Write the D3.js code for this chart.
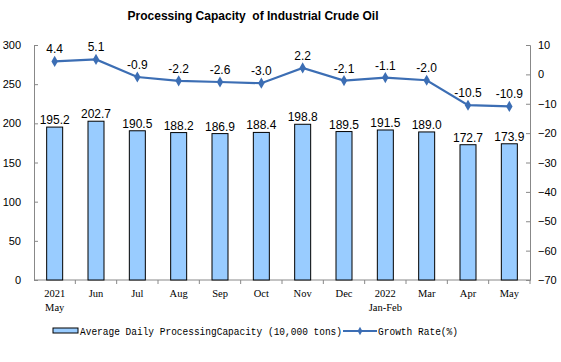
<!DOCTYPE html>
<html>
<head>
<meta charset="utf-8">
<script src="https://cdn.jsdelivr.net/npm/d3@7"></script>
<style>
  body { margin: 0; background: #fff; }
  svg text { font-family: Arial, "Liberation Sans", sans-serif; }
</style>
</head>
<body>
<svg id="chart"></svg>
<script>
var months = ["2021\nMay", "Jun", "Jul", "Aug", "Sep", "Oct", "Nov", "Dec", "2022\nJan-Feb", "Mar", "Apr", "May"];
var capacity = [195.2, 202.7, 190.5, 188.2, 186.9, 188.4, 198.8, 189.5, 191.5, 189.0, 172.7, 173.9];
var growth = [4.4, 5.1, -0.9, -2.2, -2.6, -3.0, 2.2, -2.1, -1.1, -2.0, -10.5, -10.9];
var leftTicks = [0, 50, 100, 150, 200, 250, 300];
var rightTicks = [10, 0, -10, -20, -30, -40, -50, -60, -70];

var width = 561, height = 362;
var margin = {top: 45, right: 31, bottom: 82, left: 34};

var svg = d3.select("#chart")
    .attr("width", width)
    .attr("height", height);

var xOuter = d3.scaleBand().domain(months).range([margin.left, width - margin.right]);
var y = d3.scaleLinear().domain([0, 300]).range([height - margin.bottom, margin.top]);
var y2 = d3.scaleLinear().domain([-70, 10]).range([height - margin.bottom, margin.top]);

var lineColor = "#3c6eb4";

// title
svg.append("text")
    .attr("x", 253).attr("y", 20)
    .attr("text-anchor", "middle")
    .style("font-size", "13px").style("font-weight", "bold")
    .style("white-space", "pre")
    .attr("textLength", 251).attr("lengthAdjust", "spacingAndGlyphs")
    .text("Processing Capacity  of Industrial Crude Oil");

// left axis
var gl = svg.append("g").attr("transform", "translate(" + margin.left + ",0)")
    .call(d3.axisLeft(y).tickValues(leftTicks).tickSize(-4).tickPadding(13));
// right axis
var gr = svg.append("g").attr("transform", "translate(" + (width - margin.right) + ",0)")
    .call(d3.axisRight(y2).tickValues(rightTicks).tickSize(-4).tickPadding(8));
[gl, gr].forEach(function(g) {
  g.select(".domain").attr("stroke", "#888");
  g.selectAll(".tick line").attr("stroke", "#888");
  g.selectAll(".tick text").style("font-size", "11px").style("font-family", "'Liberation Sans Narrow', Arial, sans-serif").attr("fill", "#000");
});

// bottom axis
var xb = svg.append("g").attr("transform", "translate(0," + y(0) + ")");
xb.append("line").attr("x1", margin.left).attr("x2", width - margin.right).attr("stroke", "#888");
xb.selectAll("line.t").data(months).enter().append("line").attr("class", "t")
    .attr("x1", function(d) { return xOuter(d) + xOuter.bandwidth(); })
    .attr("x2", function(d) { return xOuter(d) + xOuter.bandwidth(); })
    .attr("y1", 0).attr("y2", 4).attr("stroke", "#888");

var lbl = svg.append("g").selectAll("text").data(months).enter().append("text")
    .attr("text-anchor", "middle")
    .style("font-family", "'Liberation Serif', serif").style("font-size", "10.5px")
    .attr("transform", function(d) { return "translate(" + (xOuter(d) + xOuter.bandwidth() / 2) + "," + 297 + ")"; });
lbl.selectAll("tspan").data(function(d) { return d.split("\n"); }).enter().append("tspan")
    .attr("x", 0).attr("dy", function(d, i) { return i ? 14 : 0; })
    .text(function(d) { return d; });

// bars
svg.append("g").selectAll("rect").data(capacity).enter().append("rect")
    .attr("x", function(d, i) { return xOuter(months[i]) + xOuter.bandwidth() / 2 - 8; })
    .attr("width", 16)
    .attr("y", function(d) { return y(d); })
    .attr("height", function(d) { return y(0) - y(d); })
    .attr("fill", "#99ccff").attr("stroke", "#000").attr("stroke-width", 1);

svg.append("g").selectAll("text").data(capacity).enter().append("text")
    .attr("x", function(d, i) { return xOuter(months[i]) + xOuter.bandwidth() / 2; })
    .attr("y", function(d) { return y(d) - 3; })
    .attr("text-anchor", "middle").style("font-size", "12px")
    .text(function(d) { return d.toFixed(1); });

// growth line
var cx = function(d, i) { return xOuter(months[i]) + xOuter.bandwidth() / 2; };
svg.append("path").datum(growth)
    .attr("d", d3.line().x(cx).y(function(d) { return y2(d); }))
    .attr("fill", "none").attr("stroke", lineColor).attr("stroke-width", 2.2);
svg.append("g").selectAll("path").data(growth).enter().append("path")
    .attr("d", d3.symbol().type(d3.symbolDiamond).size(36))
    .attr("transform", function(d, i) { return "translate(" + cx(d, i) + "," + y2(d) + ")"; })
    .attr("fill", lineColor);
svg.append("g").selectAll("text").data(growth).enter().append("text")
    .attr("x", cx)
    .attr("y", function(d) { return y2(d) - 8; })
    .attr("text-anchor", "middle").style("font-size", "12px")
    .text(function(d) { return d.toFixed(1); });

// legend
var lg = svg.append("g");
lg.append("rect").attr("x", 53).attr("y", 328).attr("width", 25).attr("height", 5)
    .attr("fill", "#99ccff").attr("stroke", "#000");
lg.append("text").attr("x", 80).attr("y", 335)
    .style("font-family", "'Liberation Mono', monospace").style("font-size", "10px")
    .attr("textLength", 262).attr("lengthAdjust", "spacingAndGlyphs")
    .text("Average Daily ProcessingCapacity (10,000 tons)");
lg.append("line").attr("x1", 343).attr("x2", 377).attr("y1", 331).attr("y2", 331)
    .attr("stroke", lineColor).attr("stroke-width", 2);
lg.append("path").attr("d", d3.symbol().type(d3.symbolDiamond).size(20))
    .attr("transform", "translate(360,331)").attr("fill", lineColor);
lg.append("text").attr("x", 378).attr("y", 335)
    .style("font-family", "'Liberation Mono', monospace").style("font-size", "10px")
    .attr("textLength", 80).attr("lengthAdjust", "spacingAndGlyphs")
    .text("Growth Rate(%)");
</script>
</body>
</html>
